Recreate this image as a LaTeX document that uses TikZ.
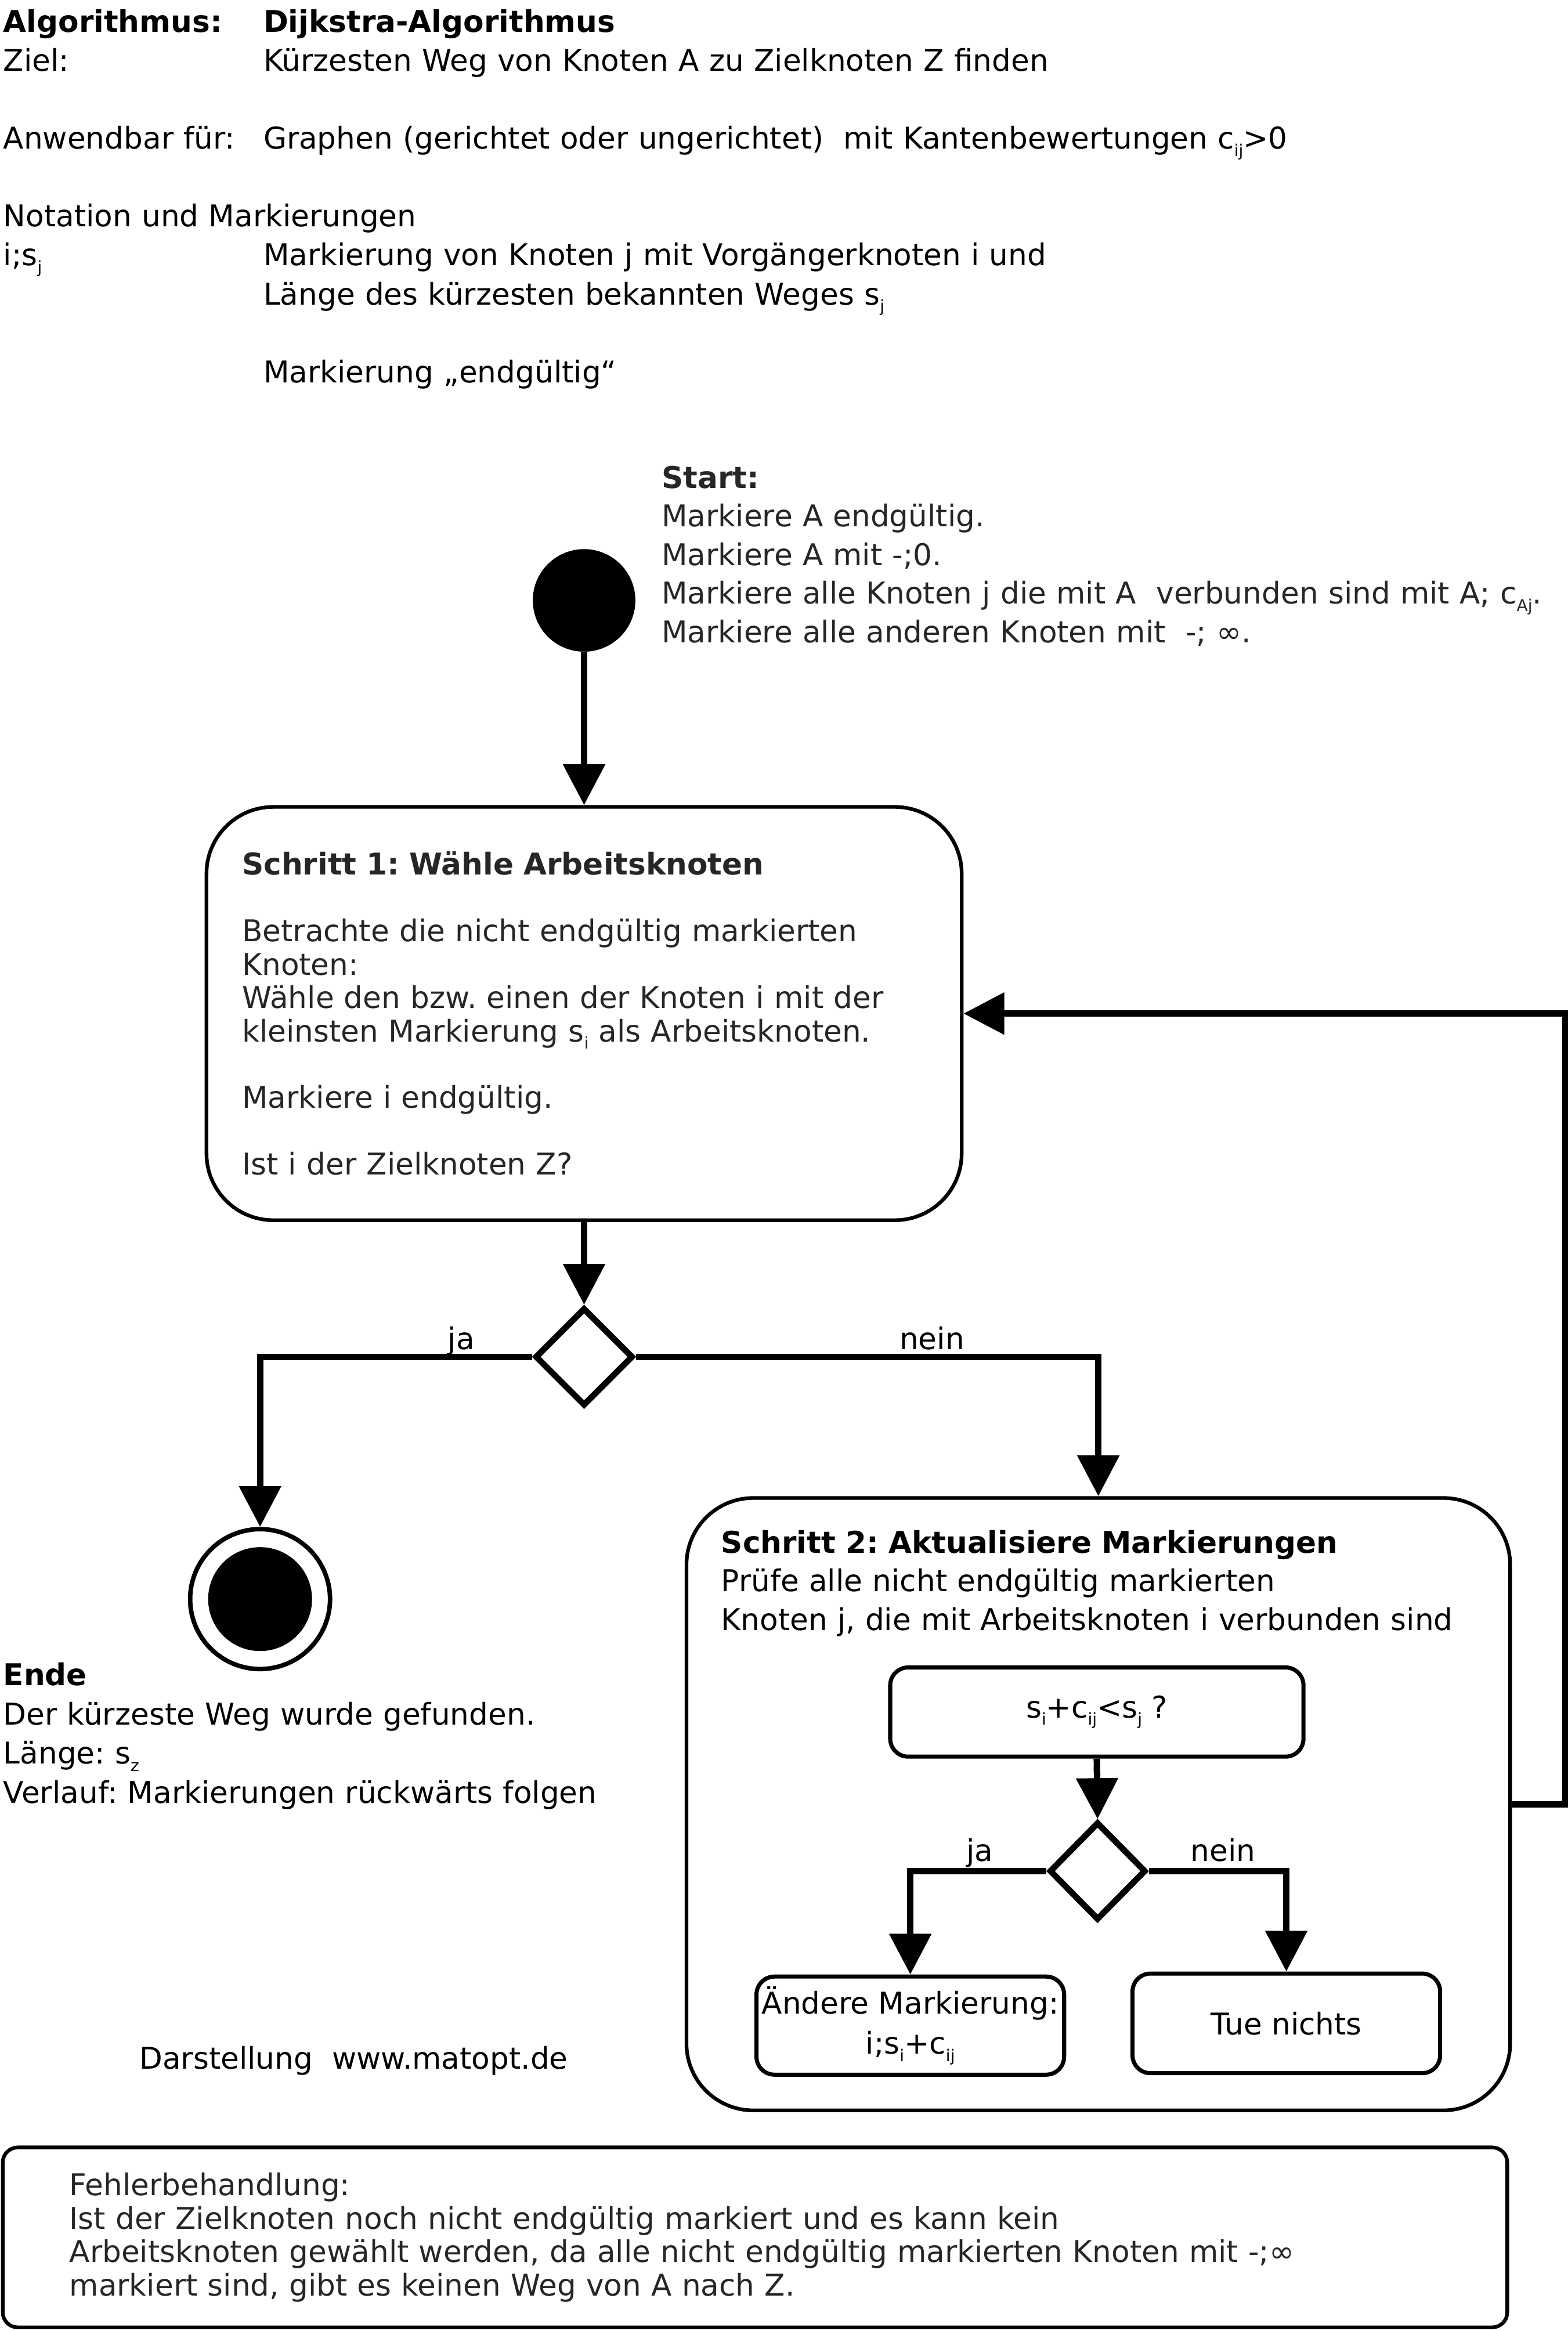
\documentclass[tikz,border=0pt]{standalone}
\usepackage{fontspec}
\setmainfont{DejaVu Sans}
\usetikzlibrary{arrows.meta,shapes.geometric,positioning}
\frenchspacing

\newcommand{\txtfont}{\fontsize{14.7}{19.1}\selectfont}
\newcommand{\boxfont}{\fontsize{14.7}{16.35}\selectfont}
\newcommand{\idx}[1]{\raisebox{-0.45ex}{\fontsize{8}{8}\selectfont #1}}
\colorlet{txtgray}{black!85}

\tikzset{%
    flow/.style={%
        line width=3.2pt, -{Triangle[length=20pt,width=20pt]}
    },
    txt/.style={%
        inner sep=0pt, align=left, font=\txtfont, anchor=base west
    },
    startnode/.style={%
        circle, fill=black, minimum size=1.767cm, inner sep=0pt
    },
    endring/.style={%
        circle, draw, line width=2.2pt, minimum size=2.41cm, inner sep=0pt
    },
    enddot/.style={%
        circle, fill=black, minimum size=1.79cm, inner sep=0pt
    },
    stepbox/.style={%
        rectangle, draw, line width=1.8pt, rounded corners=1.15cm, inner sep=0pt
    },
    smallbox/.style={%
        rectangle, draw, line width=2pt, rounded corners=0.31cm, inner sep=0pt,
        minimum width=5.30cm, minimum height=1.69cm, align=center, font=\fontsize{14.7}{19.6}\selectfont
    },
    decision/.style={%
        diamond, draw, line width=3pt, aspect=1, inner sep=0pt, minimum width=1.69cm, minimum height=1.69cm
    },
    lbl/.style={%
        font=\txtfont, anchor=base, inner sep=0pt
    },
}

\begin{document}
\begin{tikzpicture}[x=0.02561cm, y=-0.02561cm]

    \useasboundingbox (0,0) rectangle (1055,1568.5);

    % header
    \node[txt, text width=10cm] (hdrleft) at (2,21.5) {\textbf{Algorithmus:}\\Ziel:\\[19.1pt]Anwendbar für:\\[19.1pt]Notation und Markierungen\\i;s\idx{j}};
    \node[txt, text width=20cm] (hdrright) at (177,21.5) {\textbf{Dijkstra-Algorithmus}\\Kürzesten Weg von Knoten A zu Zielknoten Z finden\\[19.1pt]Graphen (gerichtet oder ungerichtet)~ mit Kantenbewertungen c\idx{ij}>0\\[38.2pt]Markierung von Knoten j mit Vorgängerknoten i und\\Länge des kürzesten bekannten Weges s\idx{j}\\[19.1pt]Markierung „endgültig“};

    % start
    \node[startnode] (start) at (393,404) {};
    \node[txt, text width=16cm, text=txtgray, font=\fontsize{14.7}{18.9}\selectfont] (starttext) at (445,328.5) {\textbf{Start:}\\Markiere A endgültig.\\Markiere A mit -;0.\\Markiere alle Knoten j die mit A~ verbunden sind mit A; c\idx{Aj}.\\Markiere alle anderen Knoten mit~ -; ∞.};

    % Schritt 1
    \node[stepbox, minimum width=13.01cm, minimum height=7.12cm, text width=11.78cm, align=left, inner xsep=0.615cm, font=\boxfont, text=txtgray] (box1) at (393,682) {\textbf{Schritt 1: Wähle Arbeitsknoten}\\[16.35pt]Betrachte die nicht endgültig markierten\\Knoten:\\Wähle den bzw. einen der Knoten i mit der\\kleinsten Markierung s\idx{i} als Arbeitsknoten.\\[16.35pt]Markiere i endgültig.\\[16.35pt]Ist i der Zielknoten Z?};
    \draw[flow] (start.south) -- (box1.north);

    \node[decision] (dec1) at (393,913) {};
    \draw[flow] (box1.south) -- (dec1.north);

    % Ende
    \node[endring] (stop) at (175,1076) {};
    \node[enddot] (stopdot) at (stop.center) {};
    \draw[flow] (dec1.west) -| (stop.north) node[lbl, pos=0.13, yshift=3.6pt] (ja1) {ja};
    \node[txt, text width=12cm, font=\fontsize{14.7}{19.3}\selectfont] (endtext) at (2,1134) {\textbf{Ende}\\Der kürzeste Weg wurde gefunden.\\Länge: s\idx{z}\\Verlauf: Markierungen rückwärts folgen};
    \node[lbl] (credit) at (238,1392) {Darstellung~ www.matopt.de};

    % Schritt 2
    \node[stepbox, minimum width=14.19cm, minimum height=10.55cm] (box2) at (739,1214) {};
    \draw[flow] (dec1.east) -| (box2.north) node[lbl, pos=0.32, yshift=3.6pt] (nein1) {nein};
    \node[txt, text width=13cm, font=\fontsize{14.7}{18.9}\selectfont] (box2text) at (485,1045) {\textbf{Schritt 2: Aktualisiere Markierungen}\\Prüfe alle nicht endgültig markierten\\Knoten j, die mit Arbeitsknoten i verbunden sind};

    \node[smallbox, minimum width=7.12cm, minimum height=1.537cm] (cond) at (738,1152) {s\idx{i}+c\idx{ij}<s\idx{j} ?};
    \node[decision, minimum width=1.665cm] (dec2) at (738.5,1259) {};
    \draw[flow] (cond.south) -- (dec2.north);

    \node[smallbox] (update) at (612.5,1363) {Ändere Markierung:\\i;s\idx{i}+c\idx{ij}};
    \node[smallbox, minimum height=1.716cm] (nothing) at (865.5,1361.5) {Tue nichts};
    \draw[flow] (dec2.west) -| (update.north) node[lbl, pos=0.245, yshift=4.7pt] (ja2) {ja};
    \draw[flow] (dec2.east) -| (nothing.north) node[lbl, pos=0.27, yshift=4.7pt] (nein2) {nein};

    % zurueck zu Schritt 1
    \draw[flow] (box2.east) -- ++(36,0) |- (box1.east);

    % Fehlerbehandlung
    \node[stepbox, rounded corners=0.26cm, minimum width=25.92cm, minimum height=3.10cm, text width=23.62cm, align=left, inner xsep=1.15cm, font=\boxfont, text=txtgray] (errbox) at (508,1505.5) {Fehlerbehandlung:\\Ist der Zielknoten noch nicht endgültig markiert und es kann kein\\Arbeitsknoten gewählt werden, da alle nicht endgültig markierten Knoten mit -;∞\\markiert sind, gibt es keinen Weg von A nach Z.};

\end{tikzpicture}
\end{document}
